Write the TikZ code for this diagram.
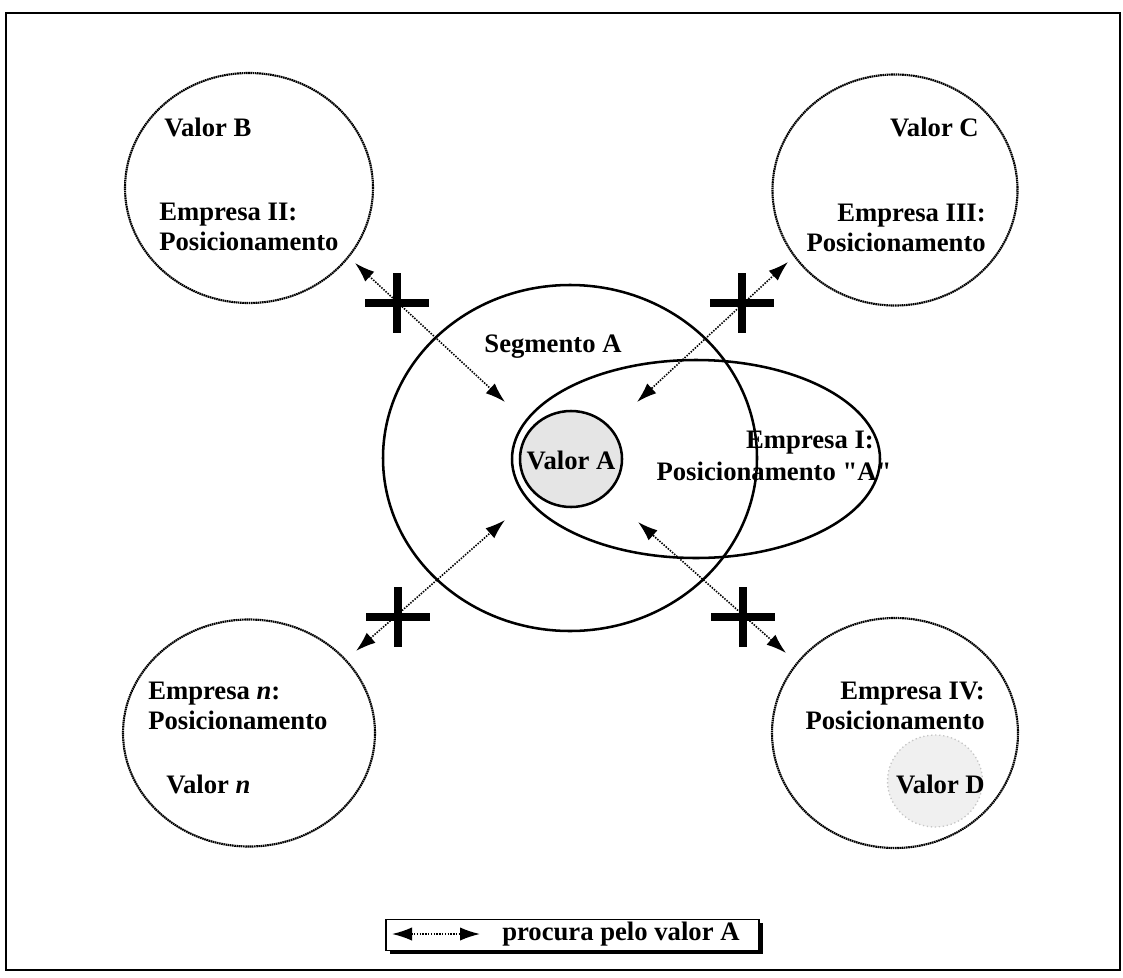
\documentclass[tikz,border=0pt]{standalone}
\usepackage{fontspec}
\setmainfont{Liberation Serif}
% same face without TeX ligature mapping, for a straight double quote
\newfontfamily\plainserif{Liberation Serif}
\usetikzlibrary{shapes.geometric,arrows.meta}

\begin{document}
\begin{tikzpicture}[x=0.75pt,y=-0.75pt,
  lbl/.style={font=\fontsize{20}{22.5}\selectfont\bfseries, inner sep=0pt},
  ring/.style={draw, ellipse, line width=1.6pt, dash pattern=on 1.2pt off 0.45pt, inner sep=0pt},
  solidring/.style={draw, ellipse, line width=1.9pt, inner sep=0pt},
  search/.style={line width=1.2pt, dash pattern=on 1.1pt off 1pt,
    {Latex[length=15pt,width=10pt]}-{Latex[length=15pt,width=10pt]}},
  cross/.style={line width=5.5pt},
]
\useasboundingbox (0,0) rectangle (1123,977);
% outer frame
\draw[line width=1.5pt] (6,13) rectangle (1120,970);

% central segment, company I and its value
\node[solidring, minimum width=280.5pt, minimum height=259.5pt] (seg) at (570,458) {};
\node[solidring, minimum width=276pt, minimum height=148.5pt] (emp1) at (696,459) {};
\node[solidring, fill=gray!20, minimum width=76.5pt, minimum height=72pt] (valA) at (571,459) {};
\node[lbl] (tvalA) at (571,460) {Valor A};
\node[lbl] (tseg) at (553,347) {Segmento A};
\node[lbl] (temp1a) at (810,443) {Empresa I:};
\node[lbl] (temp1b) at (774,471) {Posicionamento {\plainserif\bfseries"A"}};

% competing companies
\node[ring, minimum width=186pt, minimum height=172.5pt] (cB) at (249,188) {};
\node[ring, minimum width=183.75pt, minimum height=173.25pt] (cC) at (895,190) {};
\node[ring, minimum width=189pt, minimum height=170.25pt] (cN) at (249,733) {};
\node[ring, minimum width=184.5pt, minimum height=172.5pt] (cD) at (895,733) {};
\node[draw=gray!45, dotted, line width=1pt, fill=gray!12, ellipse, inner sep=0pt,
      minimum width=71.25pt, minimum height=69pt] (valD) at (935,781) {};

\node[lbl, anchor=west] (tvalB) at (164,127) {Valor B};
\node[lbl, anchor=west, align=left] (tempB) at (159,227) {Empresa II:\\Posicionamento};
\node[lbl, anchor=east] (tvalC) at (979,127) {Valor C};
\node[lbl, anchor=east, align=right] (tempC) at (986,228) {Empresa III:\\Posicionamento};
\node[lbl, anchor=west, align=left] (tempN) at (148,706) {Empresa \textit{n}:\\Posicionamento};
\node[lbl, anchor=west] (tvalN) at (166,784) {Valor \textit{n}};
\node[lbl, anchor=east, align=right] (tempD) at (985,706) {Empresa IV:\\Posicionamento};
\node[lbl, anchor=east] (tvalD) at (985,784) {Valor D};

% search arrows
\coordinate (oB) at (355,263); \coordinate (iB) at (505,402);
\coordinate (oC) at (788,262); \coordinate (iC) at (637,402);
\coordinate (oN) at (356,651); \coordinate (iN) at (505,520);
\coordinate (oD) at (786,653); \coordinate (iD) at (638,522);
\draw[search] (oB) -- (iB);
\draw[search] (oC) -- (iC);
\draw[search] (oN) -- (iN);
\draw[search] (oD) -- (iD);

% crosses on the arrows
\coordinate (xB) at (397,303);
\coordinate (xC) at (742,303);
\coordinate (xN) at (398,617);
\coordinate (xD) at (743,617);
\foreach \c in {xB,xC,xN,xD}
  \draw[cross] (\c) +(-32,0) -- +(32,0) (\c) +(0,-30) -- +(0,30);

% legend
\fill (390,923) rectangle (763,954);
\node[draw, fill=white, line width=1pt, minimum width=279.75pt, minimum height=23pt,
      inner sep=0pt] (leg) at (572.5,935) {};
\coordinate (la) at (392,934); \coordinate (lb) at (480,934);
\draw[search] (la) -- (lb);
\node[lbl, anchor=west] (tleg) at (502,934) {procura pelo valor A};
\end{tikzpicture}
\end{document}
